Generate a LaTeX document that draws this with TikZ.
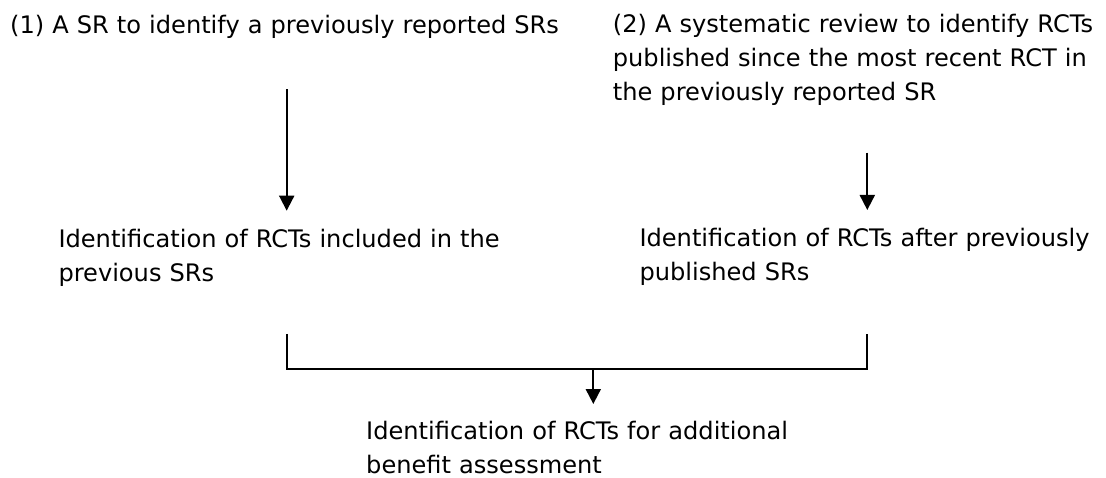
\documentclass[tikz,border=0pt]{standalone}
\usepackage{fontspec}
\setmainfont{DejaVu Sans}
\usetikzlibrary{arrows.meta}
\tikzset{
  lbl/.style={anchor=base west, inner sep=0pt, text width=700pt, align=left,
    font=\fontsize{24.1}{34}\selectfont},
  conn/.style={line width=1.9pt, draw=black},
  arr/.style={conn, -{Triangle[width=15pt,length=15pt]}}
}
\begin{document}
\begin{tikzpicture}[x=1pt,y=-1pt]
\useasboundingbox (0,0) rectangle (1106,478);
\node[lbl] (t1) at (10,33.3) {(1) A SR to identify a previously reported SRs};
\node[lbl] (t2) at (612.7,32.5) {(2) A systematic review to identify RCTs\\published since the most recent RCT in\\the previously reported SR};
\node[lbl] (t3) at (58.3,247.3) {Identification of RCTs included in the\\previous SRs};
\node[lbl] (t4) at (639.3,246.7) {Identification of RCTs after previously\\published SRs};
\node[lbl] (t5) at (366,439.3) {Identification of RCTs for additional\\benefit assessment};
\coordinate (a1s) at (286.7,89.3);
\coordinate (a1e) at (286.7,210.7);
\coordinate (a2s) at (867.3,152.7);
\coordinate (a2e) at (867.3,210);
\coordinate (bl) at (286.7,334);
\coordinate (br) at (867.3,334);
\coordinate (bm) at (593.3,369);
\coordinate (a3e) at (593.3,404);
\draw[arr] (a1s) -- (a1e);
\draw[arr] (a2s) -- (a2e);
\draw[conn] (bl) |- (bm) -| (br);
\draw[arr] (bm) -- (a3e);
\end{tikzpicture}
\end{document}
